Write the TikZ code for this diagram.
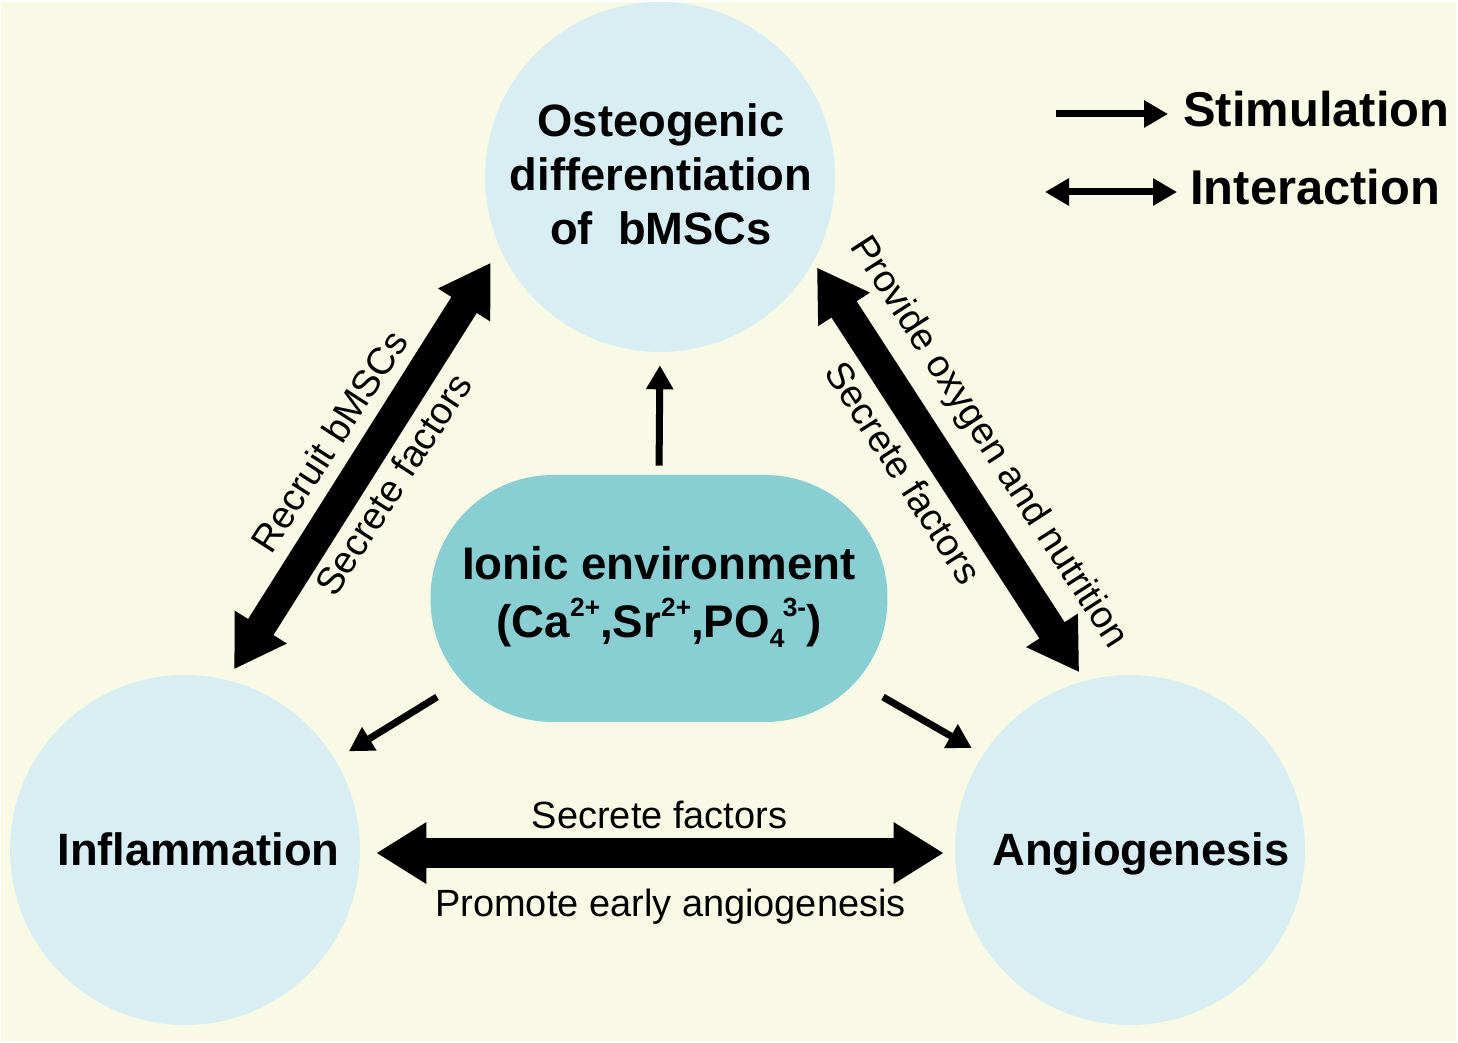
\documentclass[tikz,border=0pt]{standalone}
\usepackage{fontspec}
\setmainfont{Liberation Sans}
\usetikzlibrary{arrows.meta,calc}
\definecolor{bgc}{HTML}{F8FAE6}
\definecolor{circc}{HTML}{D9EEF2}
\definecolor{ionc}{HTML}{89CED2}
\newcommand{\ionsup}[1]{\raisebox{0.85ex}{\fontsize{15}{15}\selectfont #1}}
\newcommand{\ionsub}[1]{\raisebox{-0.45ex}{\fontsize{15}{15}\selectfont #1}}
\begin{document}
\begin{tikzpicture}[x=0.02cm,y=-0.02cm,
  circ/.style={circle, fill=circc, minimum size=7cm, inner sep=0pt},
  ionbox/.style={rectangle, rounded corners=2.45cm, fill=ionc, minimum width=9.14cm, minimum height=4.94cm, inner sep=0pt},
  bigtxt/.style={font=\bfseries\fontsize{25.8}{30.6}\selectfont, inner sep=0pt, align=center},
  iontxt/.style={font=\bfseries\fontsize{26}{33}\selectfont, inner sep=0pt, align=center},
  legtxt/.style={font=\bfseries\fontsize{27.8}{33}\selectfont, inner sep=0pt},
  lbl/.style={font=\fontsize{21.6}{26}\selectfont, inner sep=0pt},
  bigarrow/.style={line width=0.6cm, {Triangle[length=1cm,width=1.16cm]}-{Triangle[length=1cm,width=1.16cm]}},
  stim/.style={line width=0.14cm, -{Triangle[length=0.48cm,width=0.52cm]}},
  inter/.style={line width=0.14cm, {Triangle[length=0.48cm,width=0.52cm]}-{Triangle[length=0.48cm,width=0.52cm]}},
]
\useasboundingbox (0,0) rectangle (1458,1043);
\fill[white] (0,0) rectangle (1458,1043);
\fill[bgc] (1,2) rectangle (1456,1041);

% circles and box
\node[circ] (top) at (660,177) {};
\node[circ] (left) at (185,850) {};
\node[circ] (right) at (1130,850) {};
\node[ionbox] (ion) at (659,598.5) {};

% texts in shapes
\node[bigtxt] (toptxt) at (661,174.5) {Osteogenic\\differentiation\\of\ \ bMSCs};
\node[bigtxt, anchor=base] (lefttxt) at (198.5,866) {Inflammation};
\node[bigtxt, anchor=base] (righttxt) at (1141,866) {Angiogenesis};
\node[iontxt] (iontext) at (659,597) {Ionic environment\\(Ca\ionsup{2+},Sr\ionsup{2+},PO\ionsub{4}\hspace{-1pt}\ionsup{3-})};

% big interaction arrows
\draw[bigarrow, shorten <=0.25cm, shorten >=0.34cm] (left.76.7) -- (top.204.9);
\draw[bigarrow, shorten <=0.13cm, shorten >=0.2cm] (top.-29.3) -- (right.105.75);
\draw[bigarrow, shorten <=0.32cm, shorten >=0.22cm] (left.-1) -- (right.181);

% stimulation arrows from the ionic environment
\coordinate (ionSW) at ($(ion.center)+(-222,98.5)$);
\coordinate (ionSE) at ($(ion.center)+(224,98.5)$);
\draw[stim, shorten <=0.18cm, shorten >=0.26cm] (ion.north) -- (top.south);
\draw[stim, shorten >=0.32cm] (ionSW) -- (left.31.9);
\draw[stim, shorten >=0.26cm] (ionSE) -- (right.147.2);

% arrow labels
\node[lbl, rotate=57.2] (l1) at (329,441) {Recruit bMSCs};
\node[lbl, rotate=57.2] (l2) at (393,484) {Secrete factors};
\node[lbl, rotate=-57.2] (l3) at (988,443) {Provide oxygen and nutrition};
\node[lbl, rotate=-57.2] (l4) at (904,472.5) {Secrete factors};
\node[lbl, anchor=base] (l5) at (659.5,828) {Secrete factors};
\node[lbl, anchor=base] (l6) at (670.5,916) {Promote early angiogenesis};

% legend
\coordinate (sa) at (1056,114);
\coordinate (sb) at (1168,114);
\coordinate (ia) at (1045,192);
\coordinate (ib) at (1177,192);
\draw[stim] (sa) -- (sb);
\draw[inter] (ia) -- (ib);
\node[legtxt, anchor=base west] (stimtxt) at (1183,127) {Stimulation};
\node[legtxt, anchor=base west] (intertxt) at (1190,205) {Interaction};
\end{tikzpicture}
\end{document}
